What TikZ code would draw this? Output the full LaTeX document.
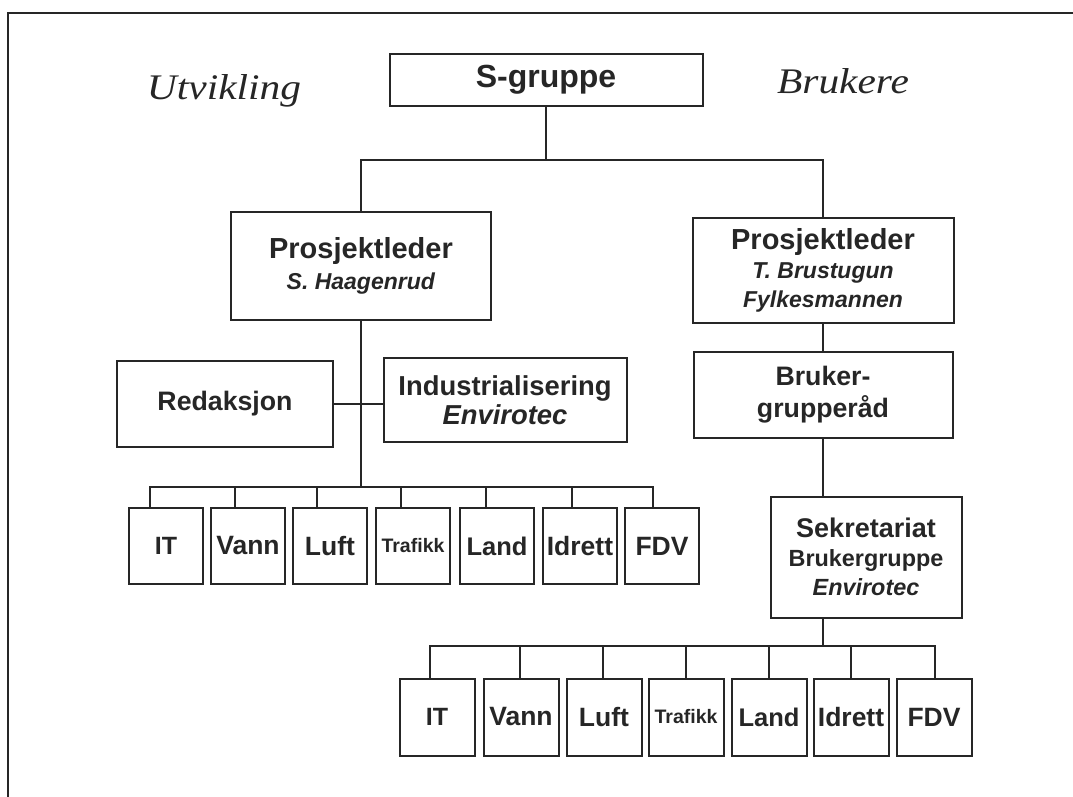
\documentclass[tikz,border=0pt]{standalone}
\usepackage{fontspec}
\setmainfont{Liberation Sans}
\newfontfamily\headserif{Liberation Serif}
\begin{document}
\begin{tikzpicture}[x=1pt,y=-1pt,
  wire/.style={draw=black!85, line width=2pt, line cap=rect},
  unit/.style={draw=black!85, line width=2pt, rectangle, inner sep=0pt,
    align=center, text=black!85},
  team/.style={unit, minimum width=74pt, minimum height=76pt},
  sidehead/.style={text=black!85, font=\headserif\itshape\fontsize{36}{40}\selectfont,
    inner sep=0pt, anchor=base},
]
\useasboundingbox (0,0) rectangle (1073,797);

% page frame (top and left edges)
\draw[wire, line width=2.5pt] (8,797) -- (8,13) -- (1073,13);

% side headings
\node[sidehead] (utv) at (224,100) {\scalebox{1.15}[1]{Utvikling}};
\node[sidehead] (bru) at (843,94) {\scalebox{1.15}[1]{Brukere}};

% top of the organisation
\node[unit, minimum width=313pt, minimum height=52pt,
  font=\bfseries\fontsize{32}{36}\selectfont] (sg) at (546,80) {S-gruppe};

\node[unit, minimum width=260pt, minimum height=108pt,
  font=\bfseries\fontsize{23}{31}\selectfont] (lp) at (361,266)
  {{\fontsize{29}{31}\selectfont Prosjektleder}\\\textit{S. Haagenrud}};

\node[unit, minimum width=261pt, minimum height=105pt,
  font=\bfseries\fontsize{23}{29}\selectfont] (rp) at (823,270)
  {{\fontsize{29}{29}\selectfont Prosjektleder}\\\textit{T. Brustugun}\\\textit{Fylkesmannen}};

\coordinate (tophub) at (546,160);
\draw[wire] (sg.south) -- (tophub);
\draw[wire] (lp.north) |- (tophub) -| (rp.north);

% development side
\node[unit, minimum width=216pt, minimum height=86pt,
  font=\bfseries\fontsize{26.7}{30}\selectfont] (red) at (225,404) {Redaksjon};
\node[unit, minimum width=243pt, minimum height=84pt,
  font=\bfseries\fontsize{27.4}{29}\selectfont] (ind) at (505,400)
  {Industrialisering\\\textit{Envirotec}};
\draw[wire] (red.east) -- (red.east -| ind.west);

\coordinate (abus) at (361,487);
\draw[wire] (lp.south) -- (abus);

\foreach \lab/\cx/\off/\fs [count=\i] in
  {IT/166/-16/25, Vann/248/-13/26.5, Luft/330/-13/26.5, Trafikk/413/-12/19.5,
   Land/497/-11/25.5, Idrett/580/-8/26.5, FDV/662/-9/26.5} {
  \node[team, font=\bfseries\fontsize{\fs}{30}\selectfont] (a\i) at (\cx,546) {\lab};
  \draw[wire] ([xshift=\off pt]a\i.north) -- ([xshift=\off pt]a\i.north |- abus);
}
\draw[wire] ([xshift=-16pt]a1.north |- abus) -- ([xshift=-9pt]a7.north |- abus);

% user side
\node[unit, minimum width=259pt, minimum height=86pt,
  font=\bfseries\fontsize{26.7}{32}\selectfont] (bg) at (823,395)
  {Bruker-\\grupperåd};
\draw[wire] (rp.south) -- (rp.south |- bg.north);

\node[unit, minimum width=191pt, minimum height=121pt,
  font=\bfseries\fontsize{23.4}{29}\selectfont] (sek) at (866,557)
  {{\fontsize{27}{30}\selectfont Sekretariat}\\Brukergruppe\\\textit{Envirotec}};
\draw[wire] (bg.south) -- (bg.south |- sek.north);

\coordinate (bbus) at (823,646);
\draw[wire] (bg.south |- sek.south) -- (bbus);

\foreach \lab/\cx/\off/\fs [count=\i] in
  {IT/437/-7/25, Vann/521/-1/26.5, Luft/604/-1/26.5, Trafikk/686/0/19.5,
   Land/769/0/25.5, Idrett/851/0/26.5, FDV/934/1/26.5} {
  \node[team, minimum width=75pt, minimum height=77pt,
    font=\bfseries\fontsize{\fs}{30}\selectfont] (b\i) at (\cx,717) {\lab};
  \draw[wire] ([xshift=\off pt]b\i.north) -- ([xshift=\off pt]b\i.north |- bbus);
}
\draw[wire] ([xshift=-7pt]b1.north |- bbus) -- ([xshift=1pt]b7.north |- bbus);
\end{tikzpicture}
\end{document}
